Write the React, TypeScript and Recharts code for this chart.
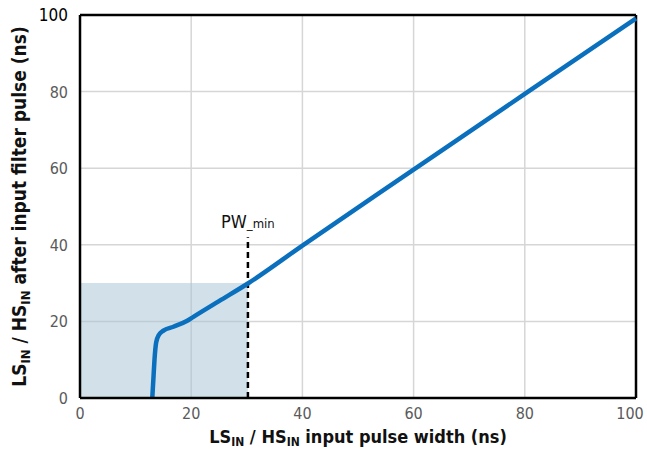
import {
  CartesianGrid,
  Line,
  LineChart,
  ReferenceArea,
  ReferenceDot,
  ReferenceLine,
  XAxis,
  YAxis,
} from "recharts"

// input pulse width (ns) vs pulse width after input filter (ns)
const pulseWidth = [13.0, 13.2, 13.4, 13.7, 14.2, 15.0, 16.8, 19.2, 20.4, 25.0, 30.2, 40, 60, 80, 100]
const filteredPulse = [0, 5, 10, 14.5, 16.5, 17.6, 18.6, 20.1, 21.2, 25.3, 29.9, 39.8, 59.6, 79.4, 99.1]

const xTicks = [0, 20, 40, 60, 80, 100]
const yTicks = [0, 20, 40, 60, 80, 100]

const pwMin = 30.2
const pwMarkerTop = 42
const shadeTop = 30

const data = pulseWidth.map((x, i) => ({ x, y: filteredPulse[i] }))

const font = '"Liberation Sans Narrow", "DejaVu Sans Condensed", "Roboto Condensed", sans-serif'
const blue = "#0a6fbd"

function XTick(props: any) {
  const { x, y, payload } = props
  // keep the last label inside the frame
  const px = Math.min(x, 644 - 14)
  return (
    <text x={px} y={y + 13} textAnchor="middle" fontFamily={font} fontSize={16} fill="#5a5a5a">
      {payload.value}
    </text>
  )
}

function YTick(props: any) {
  const { x, y, payload } = props
  const top = payload.value === 100
  return (
    <text
      x={x - 4}
      y={y + 6}
      textAnchor="end"
      fontFamily={font}
      fontSize={top ? 17 : 16}
      fill={top ? "#000" : "#5a5a5a"}
    >
      {payload.value}
    </text>
  )
}

function XTitle(props: any) {
  const { viewBox } = props
  const cx = viewBox.x + viewBox.width / 2
  return (
    <text x={cx} y={443} textAnchor="middle" fontFamily={font} fontWeight={700} fontSize={18} fill="#111">
      LS<tspan fontSize={12} dy={3}>IN</tspan>
      <tspan dy={-3}> / HS</tspan>
      <tspan fontSize={12} dy={3}>IN</tspan>
      <tspan dy={-3}> input pulse width (ns)</tspan>
    </text>
  )
}

function YTitle(props: any) {
  const { viewBox } = props
  const cy = viewBox.y + viewBox.height / 2
  return (
    <text
      x={0}
      y={0}
      transform={`translate(26, ${cy}) rotate(-90)`}
      textAnchor="middle"
      fontFamily={font}
      fontWeight={700}
      fontSize={19}
      fill="#111"
    >
      LS<tspan fontSize={13} dy={4}>IN</tspan>
      <tspan dy={-4}> / HS</tspan>
      <tspan fontSize={13} dy={4}>IN</tspan>
      <tspan dy={-4}> after input filter pulse (ns)</tspan>
    </text>
  )
}

function PwLabel(props: any) {
  const { viewBox } = props
  const x = viewBox.x + (viewBox.width || 0) / 2
  const y = viewBox.y + (viewBox.height || 0) / 2
  return (
    <text x={x} y={y - 9} textAnchor="middle" fontFamily={font} fontSize={18} fill="#111">
      PW<tspan fontSize={13}>_min</tspan>
    </text>
  )
}

export default function App() {
  return (
    <div style={{ position: "absolute", left: 0, top: 0, width: 647, height: 452, background: "#fff" }}>
      <LineChart width={647} height={452} data={data} margin={{ top: 15, right: 11, left: 30, bottom: 24 }}>
        <ReferenceArea x1={0} x2={pwMin} y1={0} y2={shadeTop} fill="#a4c2d3" fillOpacity={0.5} stroke="none" />
        <CartesianGrid stroke="#d6d6d6" strokeWidth={1.5} />
        <XAxis
          dataKey="x"
          type="number"
          domain={[0, 100]}
          ticks={xTicks}
          tickLine={false}
          axisLine={{ stroke: "#000", strokeWidth: 2.5 }}
          tick={<XTick />}
          height={30}
          label={{ content: <XTitle /> }}
        />
        <YAxis
          type="number"
          domain={[0, 100]}
          ticks={yTicks}
          tickLine={false}
          axisLine={{ stroke: "#000", strokeWidth: 2.5 }}
          tick={<YTick />}
          width={50}
          label={{ content: <YTitle /> }}
        />
        <ReferenceLine y={100} stroke="#000" strokeWidth={2.5} />
        <ReferenceLine x={100} stroke="#000" strokeWidth={2.5} />
        <ReferenceLine
          segment={[
            { x: pwMin, y: 0 },
            { x: pwMin, y: pwMarkerTop },
          ]}
          stroke="#000"
          strokeWidth={2.5}
          strokeDasharray="6 4"
        />
        <ReferenceDot x={pwMin} y={pwMarkerTop} r={0} stroke="none" fill="none" label={{ content: <PwLabel /> }} />
        <Line
          type="monotone"
          dataKey="y"
          stroke={blue}
          strokeWidth={4.5}
          dot={false}
          isAnimationActive={false}
        />
      </LineChart>
    </div>
  )
}
